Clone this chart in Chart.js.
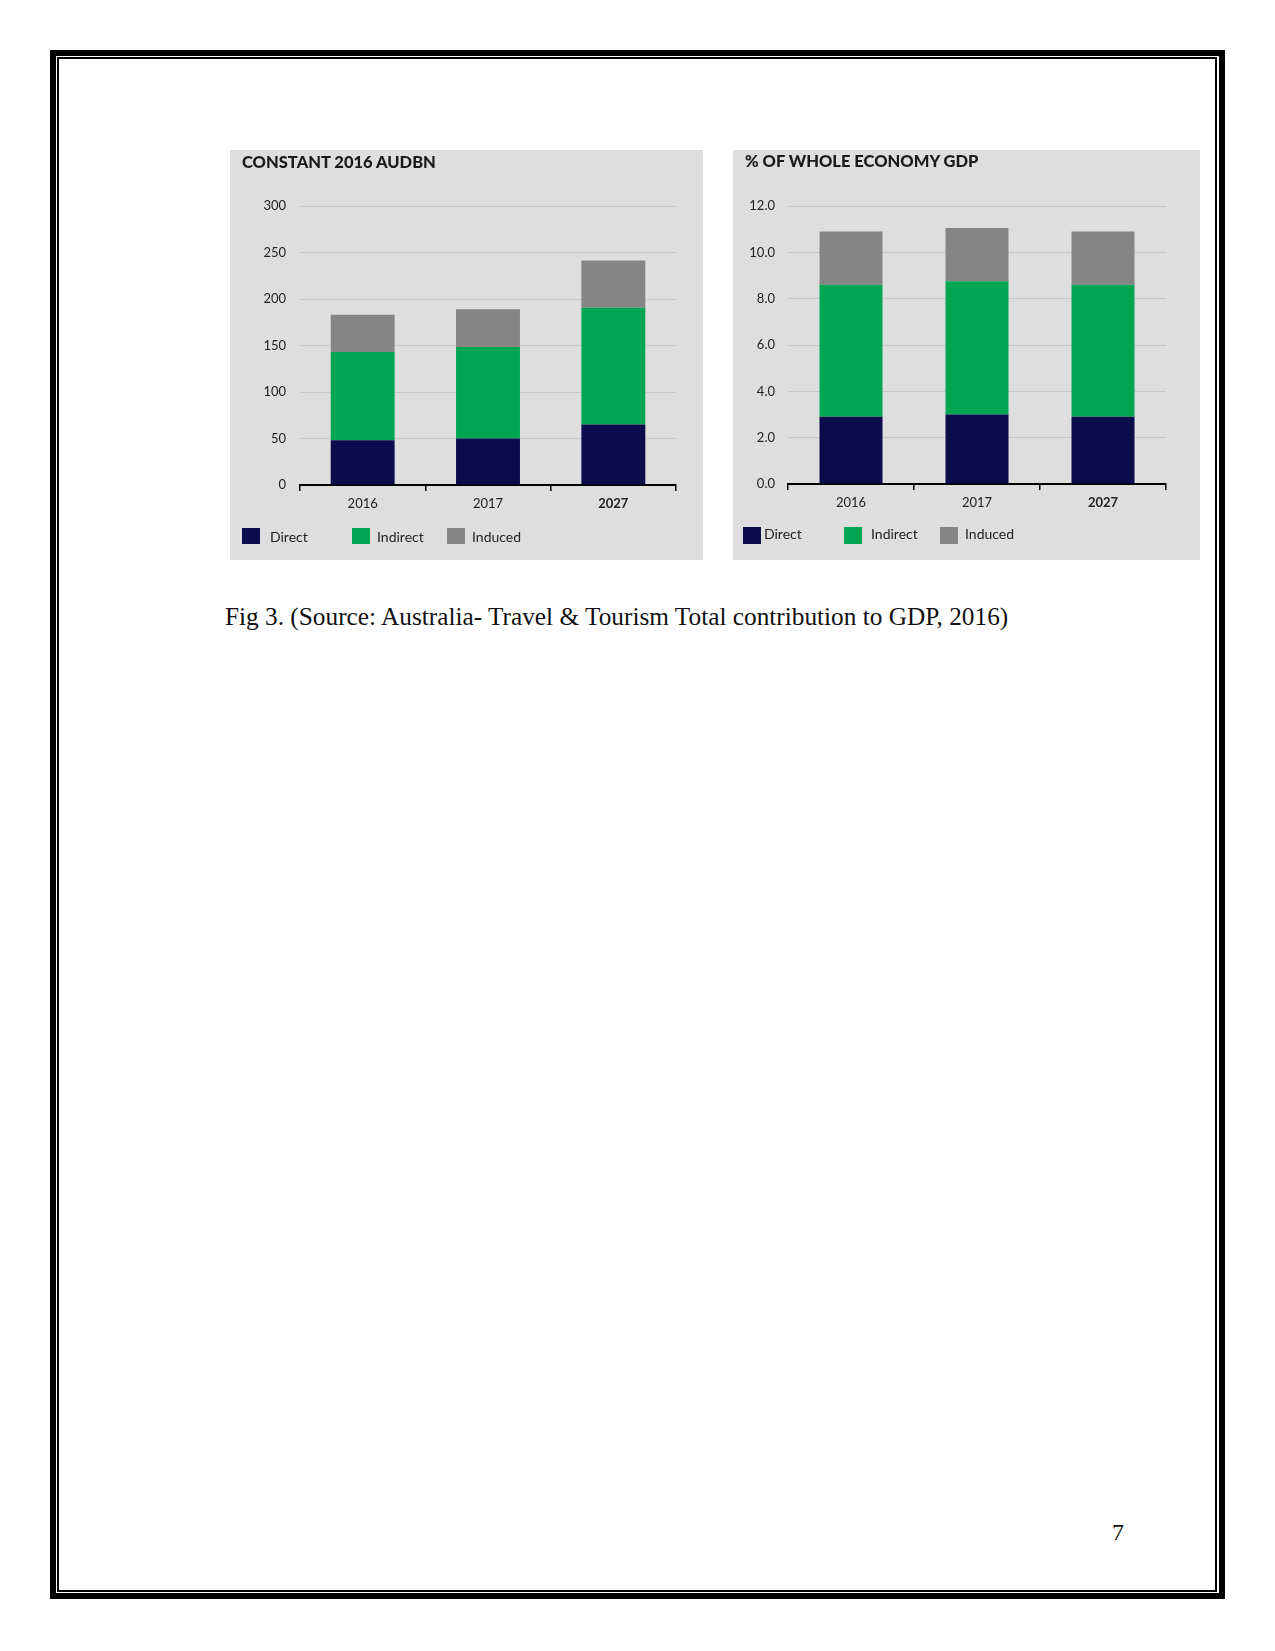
<!DOCTYPE html>
<html>
<head>
<meta charset="utf-8">
<script src="https://cdn.jsdelivr.net/npm/chart.js@4.4.0/dist/chart.umd.min.js"></script>
<style>
  body { margin: 0; background: #fff; width: 1275px; height: 1651px; position: relative; overflow: hidden; }
  .frame-outer { position: absolute; left: 50px; top: 50px; width: 1175px; height: 1549px; border: 6px solid #000; box-sizing: border-box; }
  .frame-inner { position: absolute; left: 57px; top: 57px; width: 1160px; height: 1535px; border: 2px solid #000; box-sizing: border-box; }
  .panel { position: absolute; background: #dedede; }
  .panel canvas { position: absolute; left: 0; top: 0; }
  .ptitle { position: absolute; font-family: Lato, sans-serif; font-weight: 900; font-size: 16.5px; color: #1b1b1b; line-height: 1; white-space: nowrap; }
  .lg-box { position: absolute; }
  .lg-text { position: absolute; font-family: Lato, sans-serif; font-size: 14px; color: #222; line-height: 1; white-space: nowrap; }
  .caption { position: absolute; left: 225px; top: 604px; font-family: "Liberation Serif", serif; font-size: 25.3px; color: #111; white-space: nowrap; line-height: 1; }
  .pageno { position: absolute; left: 1112px; top: 1520px; font-family: "Liberation Serif", serif; font-size: 24px; color: #111; line-height: 1; }
</style>
</head>
<body>
<div class="frame-outer"></div>
<div class="frame-inner"></div>

<div class="panel" id="p1" style="left:230px; top:150px; width:473px; height:410px;">
  <canvas id="audChart" width="473" height="410"></canvas>
</div>
<div class="panel" id="p2" style="left:733px; top:150px; width:467px; height:410px;">
  <canvas id="gdpChart" width="467" height="410"></canvas>
</div>

<div class="caption">Fig 3. (Source: Australia- Travel &amp; Tourism Total contribution to GDP, 2016)</div>
<div class="pageno">7</div>

<script>
// data
const categories = ['2016', '2017', '2027']
const seriesNames = ['Direct', 'Indirect', 'Induced']
const seriesColors = ['#0a0c4c', '#00a651', '#858585']

// constant 2016 AUD bn
const audDirect = [48, 50, 65]
const audIndirect = [95, 98.5, 125.5]
const audInduced = [40, 40.5, 51]
const audTicks = { min: 0, max: 300, step: 50 }

// % of whole economy GDP
const gdpDirect = [2.9, 3.0, 2.9]
const gdpIndirect = [5.7, 5.75, 5.7]
const gdpInduced = [2.3, 2.3, 2.3]
const gdpTicks = { min: 0, max: 12, step: 2 }

Chart.defaults.font.family = 'Lato, sans-serif'
Chart.defaults.color = '#222'

function makeChart(id, series, ticks, opt) {
    const ctx = document.getElementById(id).getContext('2d')
    return new Chart(ctx, {
        type: 'bar',
        data: {
            labels: categories,
            datasets: series.map((vals, i) => ({
                label: seriesNames[i],
                data: vals,
                backgroundColor: seriesColors[i],
                borderWidth: 0,
                barPercentage: opt.barPct,
                categoryPercentage: 1
            }))
        },
        options: {
            responsive: false,
            animation: false,
            devicePixelRatio: 1,
            layout: { padding: { top: 56, right: opt.padRight, left: 0, bottom: 0 } },
            plugins: {
                legend: { display: false },
                tooltip: { enabled: false },
                title: { display: false }
            },
            scales: {
                x: {
                    stacked: true,
                    afterFit: s => { s.height = opt.xHeight },
                    grid: { drawOnChartArea: false, drawTicks: true, tickLength: 6, color: '#000', lineWidth: 1.5, offset: true },
                    border: { color: '#000', width: 2 },
                    ticks: {
                        padding: 5,
                        color: '#222',
                        font: c => ({ size: 13, weight: c.index === 2 ? 'bold' : 'normal' })
                    }
                },
                y: {
                    stacked: true,
                    min: ticks.min,
                    max: ticks.max,
                    afterFit: s => { s.width = opt.yWidth },
                    grid: { color: '#c8c8c8', lineWidth: 1, drawTicks: false },
                    border: { display: false },
                    ticks: {
                        stepSize: ticks.step,
                        padding: opt.yPad,
                        color: '#222',
                        font: { size: 13 },
                        callback: v => opt.decimals ? v.toFixed(1) : v
                    }
                }
            }
        }
    })
}

makeChart('audChart', [audDirect, audIndirect, audInduced], audTicks,
    { barPct: 0.51, padRight: 27, xHeight: 75, yWidth: 70, yPad: 14, decimals: false })
makeChart('gdpChart', [gdpDirect, gdpIndirect, gdpInduced], gdpTicks,
    { barPct: 0.5, padRight: 34, xHeight: 76, yWidth: 55, yPad: 13, decimals: true })

// titles and legends (html, page coordinates)
function addText(cls, text, x, y) {
    const d = document.createElement('div')
    d.className = cls
    d.textContent = text
    d.style.left = x + 'px'
    d.style.top = y + 'px'
    document.body.appendChild(d)
    return d
}

addText('ptitle', 'CONSTANT 2016 AUDBN', 242, 154)
addText('ptitle', '% OF WHOLE ECONOMY GDP', 745, 153)

const legendLayouts = [
    { boxX: [242, 352, 447], textX: [270, 377, 472], boxY: 528, box: [18, 16], textY: 530 },
    { boxX: [743, 844, 940], textX: [764, 871, 965], boxY: 527, box: [18, 17], textY: 527 }
]
legendLayouts.forEach(L => {
    seriesNames.forEach((name, i) => {
        const b = document.createElement('div')
        b.className = 'lg-box'
        b.style.left = L.boxX[i] + 'px'
        b.style.top = L.boxY + 'px'
        b.style.width = L.box[0] + 'px'
        b.style.height = L.box[1] + 'px'
        b.style.background = seriesColors[i]
        document.body.appendChild(b)
        addText('lg-text', name, L.textX[i], L.textY)
    })
})
</script>
</body>
</html>
